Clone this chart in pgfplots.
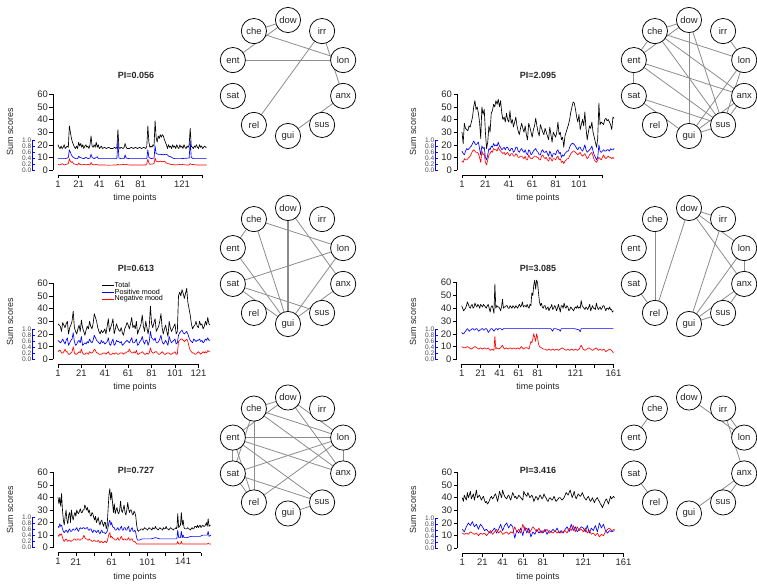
\documentclass[border=0pt]{standalone}
\usepackage{fontspec}
\setmainfont{Liberation Sans}
\usepackage{pgfplots}
\pgfplotsset{compat=1.18}
\definecolor{edgegray}{gray}{0.55}
\pgfplotsset{
  ts/.style={scale only axis, anchor=south west, clip=false,
    axis x line*=bottom, axis y line*=left,
    axis x line shift=5bp, axis y line shift=5bp,
    axis line style={-, line width=0.5bp, black},
    ymin=0, ymax=60, ytick={0,10,...,60},
    tick align=outside, major tick length=3.5bp,
    tick style={line width=0.5bp, black},
    ticklabel style={font=\fontsize{9.5}{10}\selectfont, text=black!85},
    yticklabel style={inner sep=1.5bp},
    xticklabel style={inner sep=2bp},
    /pgf/number format/assume math mode=true,
    every axis plot/.append style={line width=0.65bp, line join=round, mark=none},
  },
  blueax/.style={scale only axis, anchor=south west, width=1bp, height=30bp,
    xmin=0, xmax=1, ymin=0, ymax=1, hide x axis, axis y line*=left,
    axis line style={-, blue, line width=0.5bp},
    ytick={0,0.2,0.4,0.6,0.8,1}, yticklabels={0.0,0.2,0.4,0.6,0.8,1.0},
    tick align=inside, major tick length=2.5bp, tick style={blue, line width=0.5bp},
    yticklabel style={font=\fontsize{6.6}{6.6}\selectfont, inner sep=0.5bp, text=black!70},
  },
  net/.style={scale only axis, anchor=center, width=150bp, height=150bp,
    xmin=-1.2931, xmax=1.2931, ymin=-1.2931, ymax=1.2931, hide axis, clip=false, data cs=polar},
  edge/.style={draw=edgegray, line width=0.8bp, mark=none},
}
\newcommand{\edge}[3][]{\addplot[edge,#1] coordinates {(#2,1) (#3,1)};}
\newcommand{\netnodes}{\addplot[only marks, mark=*, mark size=12.6bp,
  mark options={draw=black, fill=white, line width=0.75bp},
  nodes near coords, point meta=explicit symbolic,
  every node near coord/.append style={anchor=center, font=\fontsize{9.5}{10}\selectfont, inner sep=0pt, text=black!85}]
  coordinates {(90,1)[dow] (54,1)[irr] (18,1)[lon] (-18,1)[anx] (-54,1)[sus] (-90,1)[gui] (-126,1)[rel] (-162,1)[sat] (162,1)[ent] (126,1)[che]};}
\begin{document}
\begin{tikzpicture}
\path[use as bounding box] (0,0) rectangle (757bp,586bp);

% ---------------- Panel 1: PI=0.056 ----------------
\begin{axis}[ts, at={(58bp,416bp)}, width=144.6bp, height=75.7bp, xmin=1, xmax=141,
  xtick={1,21,...,141}, xticklabels={1,21,41,61,81,,121,}]
\addplot[black] coordinates {(1,20)(2,18)(3,17)(4,19)(5,17)(6,18)(7,20)(8,17)(9,18)(10,19)(11,18)(12,35)(13,30)(14,25)(15,22)(16,20)(17,18)(18,17)(19,19)(20,17)(21,22)(22,19)(23,21)(24,18)(25,20)(26,17)(27,19)(28,20)(29,18)(30,19)(31,17)(32,20)(33,27)(34,19)(35,18)(36,20)(37,18)(38,22)(39,18)(40,20)(41,17)(42,18)(43,19)(44,17)(46,18)(48,17)(50,18)(52,17)(54,17)(56,18)(57,17)(58,18)(59,32)(60,18)(61,17)(62,18)(64,17)(65,18)(66,21)(67,18)(68,17)(70,17)(72,18)(74,17)(76,18)(78,17)(80,18)(82,17)(84,18)(86,17)(87,19)(88,35)(89,22)(90,18)(91,19)(92,18)(93,20)(94,19)(95,39)(96,26)(97,22)(98,27)(99,25)(100,28)(101,26)(102,28)(103,27)(104,24)(105,22)(106,20)(107,17)(108,20)(109,18)(110,19)(111,17)(112,20)(113,18)(114,19)(115,17)(116,20)(117,18)(118,17)(119,20)(120,18)(121,19)(122,17)(123,20)(124,18)(125,17)(126,19)(127,18)(128,20)(129,33)(130,19)(131,18)(132,17)(133,19)(134,18)(135,20)(136,18)(137,17)(138,20)(139,18)(140,19)(141,17)(142,18)(143,19)(144,18)(145,18)};
\addplot[blue] coordinates {(1,9)(5,9)(8,9)(10,9.5)(11,10)(12,16)(13,14)(14,12)(15,10.5)(16,10)(18,9)(20,9)(21,11)(22,10)(24,9.5)(26,9)(28,10)(30,9)(32,9.5)(33,12.5)(34,10)(36,9)(38,10)(39,10.5)(40,9)(42,9)(50,9)(58,9)(59,23)(60,9.5)(62,9)(65,9)(66,12)(67,9.5)(70,9)(80,9)(87,9)(88,16)(89,10)(91,9)(94,9.5)(95,19)(96,13)(98,12.5)(100,12.5)(103,12)(105,12.5)(107,12)(108,11)(110,10.5)(112,9.5)(114,9)(120,9)(128,9.5)(129,23)(130,10)(132,9)(140,9)(145,9)};
\addplot[red] coordinates {(1,4.5)(3,4)(5,5)(7,4)(9,4.5)(11,5)(12,9)(13,7)(14,6)(15,6.5)(16,5)(18,4.5)(20,4)(21,5.5)(22,4.5)(24,4)(26,4.5)(28,4)(30,4.5)(32,4)(33,6)(34,4.5)(36,4)(38,4.5)(40,4)(44,4)(50,3.8)(58,4)(59,4.5)(60,4)(66,4.5)(70,4)(80,4)(86,4)(87,5)(88,8.5)(89,5.5)(90,4.5)(94,5)(95,9.5)(96,7)(98,6.5)(100,7)(102,6.5)(104,7)(106,5.5)(108,5)(110,4.5)(115,4)(120,4.5)(125,4)(128,4)(129,5)(130,4.5)(135,4)(140,4)(145,4)};
\end{axis}
\begin{axis}[blueax, at={(32bp,416bp)}]
\addplot[draw=none] coordinates {(0,0)};
\end{axis}

% ---------------- Panel 2: PI=2.095 ----------------
\begin{axis}[ts, at={(462bp,416bp)}, width=140.4bp, height=75.7bp, xmin=1, xmax=121,
  xtick={1,21,...,121}, xticklabels={1,21,41,61,81,101,}]
\addplot[black] coordinates {(1,30)(2,21)(3,37)(4,33)(5,32)(6,31)(7,35)(8,34)(9,38)(10,42)(11,50)(12,55)(13,48)(14,50)(15,45)(16,38)(17,25)(18,50)(19,44)(20,48)(21,30)(22,17)(23,22)(24,35)(25,30)(26,45)(27,47)(28,52)(29,50)(30,55)(31,52)(32,56)(33,50)(34,55)(35,45)(36,40)(37,42)(38,38)(39,45)(40,40)(41,38)(42,47)(43,37)(44,40)(45,34)(46,38)(47,42)(48,35)(49,31)(50,28)(51,33)(52,37)(53,33)(54,30)(55,35)(56,28)(57,24)(58,37)(59,34)(60,30)(61,26)(62,32)(63,35)(64,41)(65,35)(66,30)(67,27)(68,36)(69,33)(70,30)(71,28)(72,33)(73,30)(74,27)(75,24)(76,34)(77,28)(78,22)(79,30)(80,28)(81,26)(82,30)(83,38)(84,28)(85,30)(86,24)(87,26)(88,18)(89,27)(90,30)(91,33)(92,36)(93,40)(94,46)(95,50)(96,54)(97,53)(98,48)(99,42)(100,38)(101,44)(102,32)(103,36)(104,40)(105,35)(106,46)(107,33)(108,24)(109,30)(110,35)(111,33)(112,38)(113,30)(114,26)(115,22)(116,18)(117,25)(118,53)(119,36)(120,38)(121,37)(122,36)(123,40)(124,41)(125,39)(126,40)(127,38)(128,36)(129,32)(130,42)(131,41)};
\addplot[blue] coordinates {(1,15)(2,13)(3,12)(4,15)(5,17)(6,16)(8,18)(9,19)(10,21)(11,23)(12,21)(13,20)(14,21)(15,22)(16,17)(17,12)(18,19)(19,17)(20,18)(21,10)(22,8)(23,12)(24,17)(25,16)(26,19)(27,18)(28,21)(29,19)(30,20)(31,19)(32,22)(33,19)(34,18)(35,16)(36,17)(37,18)(38,16)(39,18)(40,18)(41,16)(42,15)(43,17)(44,17)(45,14)(46,15)(47,18)(48,18)(49,15)(50,14)(51,16)(52,17)(53,15)(54,14)(55,16)(56,13)(57,12)(58,16)(59,15)(60,12)(61,13)(62,15)(63,16)(64,17)(65,15)(66,14)(67,12)(68,12)(69,15)(70,16)(71,14)(72,14)(73,15)(74,13)(75,11)(76,15)(77,13)(78,10)(79,13)(80,13)(81,12)(82,15)(83,16)(84,13)(85,14)(86,10)(87,12)(88,11)(89,13)(90,14)(91,15)(92,15)(93,18)(94,20)(95,21)(96,21)(97,20)(98,19)(99,17)(100,16)(101,18)(102,18)(103,16)(104,15)(105,17)(106,20)(107,16)(108,14)(109,15)(110,16)(111,17)(112,19)(113,15)(114,12)(115,10)(116,8)(117,10)(118,20)(119,15)(120,14)(121,15)(122,16)(123,15)(124,15)(125,16)(126,16)(127,15)(128,17)(129,16)(130,16)(131,17)};
\addplot[red] coordinates {(1,7)(2,6)(3,9)(4,8)(5,8)(6,9)(8,11)(9,13)(10,15)(11,16)(12,15)(13,14)(14,14)(15,13)(16,10)(17,6)(18,15)(19,12)(20,13)(21,6)(22,4)(23,8)(24,12)(25,13)(26,15)(27,14)(28,17)(29,16)(30,16)(31,15)(32,18)(33,16)(34,15)(35,14)(36,13)(37,14)(38,12)(39,13)(40,14)(41,12)(42,11)(43,13)(44,13)(45,11)(46,11)(47,13)(48,12)(49,10)(50,10)(51,11)(52,11)(53,10)(54,9)(55,11)(56,8)(57,8)(58,12)(59,10)(60,9)(61,9)(62,10)(63,11)(64,11)(65,10)(66,10)(67,8)(68,8)(69,11)(70,12)(71,10)(72,9)(73,10)(74,8)(75,7)(76,10)(77,9)(78,7)(79,9)(80,9)(81,8)(82,10)(83,11)(84,8)(85,9)(86,6)(87,7)(88,5)(89,7)(90,8)(91,9)(92,9)(93,11)(94,13)(95,14)(96,15)(97,15)(98,14)(99,13)(100,12)(101,13)(102,14)(103,12)(104,11)(105,12)(106,13)(107,11)(108,9)(109,10)(110,12)(111,13)(112,14)(113,11)(114,8)(115,7)(116,6)(117,8)(118,10)(119,9)(120,8)(121,10)(122,12)(123,10)(124,9)(125,10)(126,11)(127,10)(128,10)(129,9)(130,10)(131,9)};
\end{axis}
\begin{axis}[blueax, at={(435bp,416bp)}]
\addplot[draw=none] coordinates {(0,0)};
\end{axis}

% ---------------- Panel 3: PI=0.613 ----------------
\begin{axis}[ts, at={(58bp,226.7bp)}, width=140.4bp, height=76bp, xmin=1, xmax=121,
  xtick={1,21,...,121}, xticklabels={1,21,41,61,81,101,121},
  legend style={at={(axis cs:38,61.5)}, anchor=north west, draw=none, fill=none,
    font=\fontsize{7.2}{7.5}\selectfont, row sep=-1.2bp, inner sep=0pt,
    nodes={inner sep=0.6bp}},
  legend cell align=left,
  legend image code/.code={\draw[#1, line width=0.65bp] (0bp,0bp) -- (12bp,0bp);}]
\addplot[black] coordinates {(1,28)(2,27)(3,26)(4,22)(5,29)(6,27)(7,25)(8,28)(9,30)(10,20)(11,25)(12,27)(13,30)(14,38)(15,25)(16,22)(17,20)(18,24)(19,27)(20,22)(21,31)(22,25)(23,22)(24,19)(25,23)(26,26)(27,24)(28,30)(29,26)(30,24)(31,28)(32,36)(33,33)(34,30)(35,25)(36,22)(37,20)(38,23)(39,21)(40,22)(41,24)(42,20)(43,26)(44,32)(45,22)(46,25)(47,28)(48,32)(49,20)(50,24)(51,28)(52,25)(53,23)(54,22)(55,25)(56,21)(57,19)(58,24)(59,26)(60,29)(61,27)(62,24)(63,28)(64,33)(65,25)(66,27)(67,24)(68,30)(69,20)(70,23)(71,25)(72,28)(73,35)(74,26)(75,22)(76,30)(77,25)(78,20)(79,26)(80,42)(81,28)(82,25)(83,29)(84,32)(85,22)(86,24)(87,26)(88,30)(89,36)(90,25)(91,20)(92,24)(93,27)(94,22)(95,18)(96,30)(97,25)(98,22)(99,24)(100,26)(101,28)(102,20)(103,22)(104,50)(105,53)(106,50)(107,55)(108,52)(109,48)(110,52)(111,56)(112,45)(113,40)(114,35)(115,28)(116,24)(117,26)(118,27)(119,30)(120,26)(121,25)(122,30)(123,27)(124,28)(125,24)(126,26)(127,30)(128,27)(129,33)(130,28)(131,27)};
\addlegendentry{Total}
\addplot[blue] coordinates {(1,15)(2,14)(3,13)(4,14)(5,16)(6,14)(7,12)(8,15)(9,17)(10,11)(11,13)(12,15)(13,16)(14,21)(15,14)(16,11)(17,12)(18,14)(19,15)(20,13)(21,18)(22,11)(23,12)(24,13)(25,12)(26,14)(27,13)(28,16)(29,14)(30,13)(31,15)(32,19)(33,17)(34,15)(35,14)(36,13)(37,12)(38,15)(39,13)(40,14)(41,12)(42,13)(43,14)(44,17)(45,12)(46,11)(47,14)(48,16)(49,11)(50,12)(51,15)(52,14)(53,14)(54,13)(55,14)(56,11)(57,12)(58,13)(59,14)(60,15)(61,14)(62,13)(63,15)(64,17)(65,13)(66,13)(67,14)(68,16)(69,11)(70,12)(71,14)(72,15)(73,18)(74,14)(75,12)(76,15)(77,15)(78,11)(79,14)(80,22)(81,17)(82,16)(83,15)(84,17)(85,13)(86,13)(87,14)(88,16)(89,19)(90,14)(91,12)(92,13)(93,15)(94,13)(95,11)(96,18)(97,15)(98,13)(99,14)(100,15)(101,16)(102,12)(103,13)(104,19)(105,21)(106,22)(107,23)(108,21)(109,20)(110,21)(111,22)(112,20)(113,17)(114,15)(115,14)(116,13)(117,16)(118,15)(119,14)(120,15)(121,15)(122,16)(123,14)(124,15)(125,13)(126,14)(127,16)(128,15)(129,17)(130,15)(131,15)};
\addlegendentry{Positive mood}
\addplot[red] coordinates {(1,6)(2,7)(3,7)(4,5)(5,5)(6,6)(7,8)(8,6)(9,6)(10,4)(11,4)(12,5)(13,6)(14,10)(15,5)(16,4)(17,4)(18,5)(19,6)(20,5)(21,8)(22,5)(23,4)(24,4)(25,5)(26,5)(27,4)(28,6)(29,5)(30,5)(31,6)(32,8)(33,7)(34,5)(35,5)(36,4)(37,4)(38,4)(40,5)(41,5)(42,4)(43,5)(44,6)(45,4)(46,4)(47,4)(48,5)(49,4)(50,5)(51,5)(52,4)(53,4)(54,5)(55,5)(56,5)(57,4)(58,5)(59,5)(60,6)(61,6)(62,8)(63,6)(64,5)(65,5)(66,6)(67,5)(68,7)(69,4)(70,4)(71,5)(72,5)(73,6)(74,5)(75,4)(76,4)(77,5)(78,4)(79,5)(80,9)(81,6)(82,5)(83,5)(84,6)(85,6)(86,5)(87,4)(88,4)(89,5)(90,6)(91,5)(92,4)(93,4)(94,5)(95,5)(96,5)(97,4)(98,4)(99,5)(100,5)(101,6)(102,4)(103,4)(104,14)(105,15)(106,16)(107,16)(108,15)(109,14)(110,15)(111,16)(112,14)(113,10)(114,7)(115,6)(116,5)(117,5)(118,4)(119,4)(120,5)(121,6)(122,5)(123,4)(124,5)(125,6)(126,5)(127,6)(128,5)(129,7)(130,6)(131,6)};
\addlegendentry{Negative mood}
\end{axis}
\begin{axis}[blueax, at={(32bp,226.7bp)}]
\addplot[draw=none] coordinates {(0,0)};
\end{axis}

% ---------------- Panel 4: PI=3.085 ----------------
\begin{axis}[ts, at={(461.7bp,226.7bp)}, width=151.7bp, height=76.6bp, xmin=1, xmax=161,
  xtick={1,21,...,161}, xticklabels={1,21,41,61,81,,121,,161}]
\addplot[black] coordinates {(1,42)(2,40)(3,38)(4,39)(5,40)(6,42)(7,45)(8,43)(9,41)(10,40)(11,42)(12,43)(13,40)(14,41)(15,44)(16,42)(17,41)(18,43)(19,42)(20,40)(21,43)(22,42)(23,41)(24,43)(25,42)(26,41)(27,40)(28,42)(29,43)(30,40)(31,37)(32,41)(33,42)(34,40)(35,36)(36,59)(37,40)(38,42)(39,41)(40,41)(41,40)(42,38)(43,41)(44,47)(45,40)(46,41)(47,41)(48,42)(49,42)(50,40)(51,40)(52,42)(53,41)(54,40)(55,42)(56,41)(57,40)(58,42)(59,41)(60,40)(61,42)(62,43)(63,41)(64,42)(65,45)(66,41)(67,42)(68,42)(69,41)(70,43)(71,41)(72,40)(73,43)(74,42)(75,52)(76,50)(77,58)(78,62)(79,55)(80,62)(81,60)(82,52)(83,45)(84,42)(85,44)(86,41)(87,40)(88,42)(89,42)(90,39)(91,40)(92,41)(93,38)(94,40)(95,41)(96,43)(97,39)(98,40)(99,42)(100,41)(101,38)(102,40)(103,43)(104,40)(105,37)(106,42)(107,42)(108,40)(109,44)(110,41)(111,40)(112,42)(113,41)(114,38)(115,39)(116,41)(117,40)(118,39)(119,38)(120,40)(121,41)(122,40)(123,42)(124,40)(125,41)(126,40)(127,46)(128,42)(129,41)(130,40)(131,39)(132,41)(133,40)(134,39)(135,41)(136,43)(137,38)(138,40)(139,42)(140,40)(141,40)(142,39)(143,44)(144,41)(145,39)(146,40)(147,41)(148,39)(149,40)(150,42)(151,42)(152,40)(153,38)(154,40)(155,40)(156,39)(157,41)(158,39)(159,39)(160,37)(161,38)};
\addplot[blue] coordinates {(1,21)(2,20)(3,20)(4,21)(5,22)(6,23)(7,24)(8,23)(9,22)(10,23)(11,23)(12,24)(13,24)(14,23)(15,23)(16,24)(17,24)(18,23)(19,22)(20,23)(21,23)(22,24)(23,24)(24,23)(25,23)(26,24)(27,24)(28,23)(29,21)(30,22)(31,23)(32,24)(33,24)(34,23)(35,22)(36,23)(37,24)(38,24)(39,23)(40,24)(42,24)(44,23)(45,24)(50,24)(55,24)(60,24)(65,24)(70,24)(75,24)(80,24)(85,24)(88,24)(90,24)(95,24)(96,23)(97,22)(98,24)(100,24)(104,23)(105,22)(106,24)(110,24)(115,24)(120,24)(125,23)(126,21.5)(127,24)(130,24)(140,24)(150,24)(161,24)};
\addplot[red] coordinates {(1,10)(3,9)(5,9)(7,10)(9,9)(11,8)(13,9)(15,10)(17,9)(19,8)(21,9)(23,8)(25,9)(27,8)(29,9)(31,7)(33,8)(35,7)(36,18)(37,8)(38,9)(40,8)(42,9)(44,11)(46,8)(48,9)(50,8)(52,9)(54,8)(56,9)(58,8)(60,9)(62,8)(64,10)(66,8)(68,9)(70,9)(72,8)(74,14)(75,13)(76,16)(77,20)(78,17)(79,14)(80,20)(81,17)(82,12)(83,10)(85,9)(87,8)(89,8)(91,7)(93,8)(95,7)(97,8)(99,7)(101,8)(103,7)(105,8)(107,9)(109,8)(111,7)(113,8)(115,7)(117,8)(119,7)(121,8)(123,7)(125,8)(127,11)(129,8)(131,7)(133,8)(135,9)(137,8)(139,7)(141,8)(143,9)(145,7)(147,8)(149,7)(151,8)(153,6)(155,7)(157,8)(159,7)(161,5)};
\end{axis}
\begin{axis}[blueax, at={(435bp,226.7bp)}]
\addplot[draw=none] coordinates {(0,0)};
\end{axis}

% ---------------- Panel 5: PI=0.727 ----------------
\begin{axis}[ts, at={(58bp,38.3bp)}, width=143bp, height=75.4bp, xmin=1, xmax=161,
  xtick={1,21,...,161}, xticklabels={1,21,,61,,101,,141,}]
\addplot[black] coordinates {(1,40)(2,35)(3,40)(4,33)(5,43)(6,30)(7,22)(8,18)(9,25)(10,30)(11,22)(12,19)(13,26)(14,28)(15,20)(16,30)(17,25)(18,22)(19,26)(20,28)(21,25)(22,30)(23,28)(24,27)(25,29)(26,31)(27,28)(28,28)(29,30)(30,30)(31,34)(32,32)(33,30)(34,32)(35,28)(36,30)(37,26)(38,25)(39,28)(40,27)(41,24)(42,22)(43,25)(44,20)(45,22)(46,24)(47,20)(48,18)(49,21)(50,22)(51,19)(52,17)(53,20)(54,20)(55,15)(56,18)(57,30)(58,42)(59,47)(60,38)(61,44)(62,36)(63,28)(64,35)(65,27)(66,30)(67,32)(68,28)(69,27)(70,30)(71,37)(72,30)(73,28)(74,31)(75,34)(76,28)(77,26)(78,30)(79,36)(80,31)(81,28)(82,30)(83,30)(84,27)(85,26)(86,29)(87,28)(88,25)(89,18)(90,14)(91,13)(92,14)(93,14)(94,15)(95,15)(96,14)(97,15)(98,16)(99,15)(100,15)(101,14)(102,15)(103,16)(104,15)(105,15)(106,14)(107,16)(108,15)(109,15)(110,17)(111,15)(112,15)(113,14)(114,15)(115,16)(116,15)(117,15)(118,14)(119,16)(120,15)(121,15)(122,17)(123,15)(124,15)(125,14)(126,15)(127,16)(128,15)(129,15)(130,14)(131,15)(132,15)(133,16)(134,15)(135,27)(136,16)(137,17)(138,18)(139,28)(140,18)(141,22)(142,16)(143,15)(144,15)(145,15)(146,16)(147,15)(148,15)(149,14)(150,15)(151,16)(152,15)(153,15)(154,17)(155,17)(156,16)(157,18)(158,16)(159,17)(160,18)(161,16)(162,17)(163,18)(164,17)(165,17)(166,18)(167,20)(168,17)(169,23)(170,17)(171,18)(172,18)};
\addplot[blue] coordinates {(1,17)(2,16)(3,19)(4,17)(5,18)(6,15)(7,13)(8,12)(9,13)(10,14)(11,13)(12,12)(13,14)(14,15)(15,13)(16,13)(17,14)(18,15)(19,14)(20,14)(21,15)(22,16)(23,14)(24,13)(25,15)(26,16)(27,15)(28,15)(29,16)(30,16)(31,15)(32,15)(33,16)(34,16)(35,14)(36,14)(37,15)(38,15)(39,13)(40,12)(41,14)(42,14)(43,13)(44,12)(45,13)(46,14)(47,12)(48,11)(49,13)(50,14)(51,12)(52,12)(53,12)(54,11)(55,12)(56,13)(57,16)(58,20)(59,22)(60,18)(61,20)(62,17)(63,16)(64,16)(65,14)(66,14)(67,15)(68,16)(69,14)(70,14)(71,16)(72,17)(73,14)(74,14)(75,16)(76,16)(77,14)(78,14)(79,16)(80,17)(81,13)(82,13)(83,15)(84,16)(85,13)(86,13)(87,14)(88,12)(89,8)(90,6)(92,6)(95,7)(98,7)(100,7)(105,7)(110,8)(115,7)(120,7)(125,7)(130,7)(134,7)(135,14)(136,8)(137,8)(138,8)(139,13)(140,8)(141,10)(142,8)(145,8)(150,9)(153,9)(155,9)(158,9)(160,9)(163,10)(165,10)(167,10)(168,10)(169,13)(170,9)(172,10)};
\addplot[red] coordinates {(1,10)(2,9)(3,11)(4,10)(5,11)(6,8)(7,6)(8,5)(9,6)(10,7)(11,6)(12,5)(13,6)(14,6)(15,5)(16,5)(17,6)(18,6)(19,7)(20,7)(21,6)(22,6)(23,7)(24,7)(25,6)(26,6)(27,7)(28,7)(29,8)(30,10)(31,8)(32,7)(33,7)(34,6)(35,6)(36,7)(37,6)(38,6)(39,5)(40,5)(41,6)(42,6)(43,5)(44,5)(45,5)(46,6)(47,5)(48,4)(49,5)(50,5)(51,4)(52,4)(53,5)(54,5)(55,4)(56,5)(57,8)(58,11)(59,12)(60,8)(61,9)(62,8)(63,7)(64,7)(65,6)(66,6)(67,7)(68,8)(69,6)(70,6)(71,8)(72,9)(73,7)(74,6)(75,7)(76,7)(77,6)(78,6)(79,7)(80,8)(81,6)(82,6)(83,7)(84,7)(85,5)(86,5)(87,5)(88,4)(89,3)(90,3)(100,3)(110,3)(120,3)(130,3)(134,3)(135,5)(136,3)(138,3)(139,5)(140,3)(150,3)(160,3)(168,3)(169,3.5)(170,3)(172,3)};
\end{axis}
\begin{axis}[blueax, at={(32bp,38.3bp)}]
\addplot[draw=none] coordinates {(0,0)};
\end{axis}

% ---------------- Panel 6: PI=3.416 ----------------
\begin{axis}[ts, at={(462.3bp,37.7bp)}, width=161.3bp, height=76bp, xmin=1, xmax=161,
  xtick={1,21,...,161}, xticklabels={1,21,41,61,81,,121,,161}]
\addplot[black] coordinates {(1,40)(2,37)(3,42)(4,40)(5,38)(6,44)(7,40)(8,42)(9,45)(10,39)(11,41)(12,43)(13,38)(14,42)(15,46)(16,40)(17,41)(18,42)(19,40)(20,38)(21,40)(22,41)(23,38)(24,36)(25,37)(26,35)(27,36)(28,38)(29,40)(30,41)(31,39)(32,40)(33,42)(34,43)(35,40)(36,37)(37,41)(38,45)(39,42)(40,40)(41,46)(42,43)(43,41)(44,40)(45,39)(46,41)(47,42)(48,40)(49,38)(50,41)(51,44)(52,42)(53,40)(54,41)(55,39)(56,40)(57,42)(58,41)(59,40)(60,39)(61,38)(62,45)(63,43)(64,42)(65,41)(66,44)(67,42)(68,40)(69,41)(70,42)(71,40)(72,37)(73,39)(74,41)(75,40)(76,38)(77,40)(78,42)(79,41)(80,39)(81,40)(82,43)(83,41)(84,40)(85,38)(86,37)(87,39)(88,40)(89,39)(90,38)(91,39)(92,41)(93,39)(94,37)(95,38)(96,39)(97,40)(98,40)(99,39)(100,38)(101,39)(102,40)(103,42)(104,44)(105,43)(106,42)(107,44)(108,46)(109,43)(110,40)(111,42)(112,45)(113,41)(114,39)(115,41)(116,43)(117,42)(118,41)(119,42)(120,44)(121,42)(122,40)(123,39)(124,38)(125,40)(126,41)(127,39)(128,37)(129,38)(130,40)(131,38)(132,36)(133,38)(134,39)(135,40)(136,38)(137,37)(138,35)(139,34)(140,32)(141,34)(142,36)(143,38)(144,39)(145,37)(146,35)(147,38)(148,41)(149,39)(150,40)(151,41)(152,40)};
\addplot[blue] coordinates {(1,15)(3,13)(5,17)(7,20)(9,18)(11,21)(13,17)(15,19)(17,15)(19,19)(21,17)(23,14)(25,15)(27,13)(29,12)(31,14)(33,16)(35,12)(37,15)(39,19)(41,14)(43,18)(45,20)(47,16)(49,19)(51,17)(53,8)(55,14)(57,12)(59,16)(61,10)(63,17)(65,12)(67,16)(69,9)(71,13)(73,11)(75,15)(77,12)(79,14)(81,12)(83,15)(85,11)(87,14)(89,13)(91,15)(93,13)(95,16)(97,12)(99,14)(101,12)(103,15)(105,17)(107,13)(109,19)(111,14)(113,17)(115,13)(117,15)(119,17)(121,16)(123,13)(125,18)(127,12)(129,16)(131,14)(133,18)(135,13)(137,20)(139,16)(141,19)(143,14)(145,12)(147,14)(149,13)(152,14)};
\addplot[red] coordinates {(1,12)(3,11)(5,12)(7,11)(9,13)(11,12)(13,11)(15,12)(17,10)(19,12)(21,11)(23,12)(25,10)(27,12)(29,14)(31,11)(33,13)(35,15)(37,12)(39,14)(41,11)(43,12)(45,13)(47,11)(49,13)(51,12)(53,17)(55,13)(57,15)(59,12)(61,19)(63,14)(65,16)(67,12)(69,14)(71,17)(73,15)(75,13)(77,16)(79,12)(81,14)(83,13)(85,15)(87,12)(89,13)(91,12)(93,14)(95,12)(97,13)(99,12)(101,13)(103,14)(105,12)(107,16)(109,14)(111,18)(113,13)(115,17)(117,14)(119,15)(121,13)(123,16)(125,12)(127,14)(129,11)(131,12)(133,10)(135,12)(137,9)(139,11)(141,10)(143,13)(145,15)(147,16)(149,14)(152,15)};
\end{axis}
\begin{axis}[blueax, at={(435bp,37.7bp)}]
\addplot[draw=none] coordinates {(0,0)};
\end{axis}

% ---------------- Networks ----------------
\begin{axis}[net, at={(288bp,508bp)}]
\edge{126}{90}\edge{162}{90}\edge{126}{18}\edge{162}{18}\edge{54}{-126}\edge{54}{-18}\edge{-18}{-90}
\netnodes
\end{axis}
\begin{axis}[net, at={(689bp,508bp)}]
\edge{126}{90}\edge{162}{90}\edge{90}{-90}\edge{90}{-54}\edge{126}{18}\edge{126}{-18}\edge{126}{-54}\edge{54}{18}\edge{162}{-18}\edge{162}{-54}\edge{162}{-162}\edge{126}{162}\edge{-162}{-54}\edge{-162}{-90}\edge{18}{-90}\edge{18}{-54}\edge{-18}{-90}\edge{-18}{-54}\edge{-54}{-90}
\netnodes
\end{axis}
\begin{axis}[net, at={(288bp,320bp)}]
\edge[line width=1.3bp]{90}{-90}\edge{90}{-18}\edge{126}{18}\edge{126}{-90}\edge{162}{-90}\edge{126}{162}\edge{-162}{18}\edge{-162}{-54}\edge{-162}{-90}\edge{18}{-90}\edge{-18}{-90}
\netnodes
\end{axis}
\begin{axis}[net, at={(689bp,320bp)}]
\edge{126}{-126}\edge{-162}{-126}\edge{90}{-126}\edge{90}{54}\edge{90}{18}\edge{90}{-18}\edge{54}{-90}\edge{18}{-90}\edge{18}{-18}\edge{-18}{-54}\edge{-18}{-90}\edge{-54}{-90}
\netnodes
\end{axis}
\begin{axis}[net, at={(288bp,130.5bp)}]
\edge{126}{90}\edge{162}{90}\edge{90}{18}\edge{90}{-18}\edge{126}{18}\edge{126}{-18}\edge{126}{-126}\edge{162}{18}\edge{162}{-18}\edge{162}{-54}\edge{162}{-162}\edge{-162}{18}\edge{-162}{-54}\edge{-162}{-126}\edge{-126}{18}\edge{18}{-18}\edge{-54}{-90}\edge{162}{-126}\edge{126}{-162}
\netnodes
\end{axis}
\begin{axis}[net, at={(689bp,130.5bp)}]
\edge{126}{162}\edge{-162}{-126}\edge{90}{18}\edge{54}{18}\edge{54}{-18}\edge{-18}{-54}\edge{-18}{-90}
\netnodes
\end{axis}

% ---------------- Titles and labels ----------------
\tikzset{ttl/.style={font=\bfseries\fontsize{9}{10}\selectfont, inner sep=0pt, text=black!85},
         lab/.style={font=\fontsize{9}{10}\selectfont, inner sep=0pt, text=black!85}}
\node[ttl] at (136bp,511bp) {PI=0.056};
\node[ttl] at (538bp,511bp) {PI=2.095};
\node[ttl] at (136bp,318bp) {PI=0.613};
\node[ttl] at (538bp,318bp) {PI=3.085};
\node[ttl] at (136bp,116bp) {PI=0.727};
\node[ttl] at (538bp,116bp) {PI=3.416};
\node[lab] at (135bp,198.7bp) {time points};
\node[lab] at (538bp,198.7bp) {time points};
\node[lab] at (135bp,388bp) {time points};
\node[lab] at (538bp,388bp) {time points};
\node[lab] at (135bp,9bp) {time points};
\node[lab] at (538bp,9bp) {time points};
\node[lab, rotate=90] at (10bp,454bp) {Sum scores};
\node[lab, rotate=90] at (413bp,454bp) {Sum scores};
\node[lab, rotate=90] at (10bp,264bp) {Sum scores};
\node[lab, rotate=90] at (413bp,264bp) {Sum scores};
\node[lab, rotate=90] at (10bp,76bp) {Sum scores};
\node[lab, rotate=90] at (413bp,76bp) {Sum scores};
\end{tikzpicture}
\end{document}
